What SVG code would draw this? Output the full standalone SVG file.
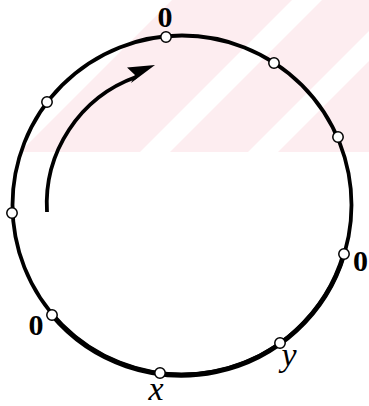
<svg xmlns="http://www.w3.org/2000/svg" width="369" height="406" viewBox="0 0 369 406">
  <style>
    .bg { fill: #fdedf0; }
    .ring { fill: none; stroke: #000; stroke-width: 3.8; }
    .ring-heavy { fill: none; stroke: #000; stroke-width: 4.8; }
    .shaft { fill: none; stroke: #000; stroke-width: 3.8; stroke-linecap: butt; }
    .head { fill: #000; }
    .pt { fill: #fff; stroke: #000; stroke-width: 1.5; }
    .zero { font-family: "Liberation Serif", "Times New Roman", serif; font-weight: bold; font-size: 30px; text-anchor: middle; fill: #000; }
    .var { font-family: "Liberation Serif", "Times New Roman", serif; font-style: italic; font-size: 34px; text-anchor: middle; fill: #000; }
  </style>
  <rect x="0" y="0" width="369" height="406" fill="#fff"/>
  <g id="watermark">
    <polygon class="bg" points="172,0 292,0 140,152 20,152"/>
    <polygon class="bg" points="322,0 369,0 369,31 248,152 170,152"/>
    <polygon class="bg" points="369,61 369,152 278,152"/>
  </g>
  <g id="connectors">
    <circle class="ring" cx="182" cy="205" r="169.5"/>
    <path class="ring-heavy" d="M 52 315 A 169.5 169.5 0 0 0 344 254"/>
    <path class="shaft" d="M 47 212 A 135 135 0 0 1 136 77"/>
    <polygon class="head" points="155,65 127,67.5 135,75 131,83"/>
  </g>
  <g id="n-top"><circle class="pt" cx="166" cy="37" r="5.2"/><text class="zero" x="165" y="27">0</text></g>
  <g id="n-ne"><circle class="pt" cx="274" cy="63" r="5.2"/></g>
  <g id="n-e"><circle class="pt" cx="338" cy="137" r="5.2"/></g>
  <g id="n-se"><circle class="pt" cx="344" cy="254" r="5.2"/><text class="zero" x="360.5" y="271">0</text></g>
  <g id="n-y"><circle class="pt" cx="280" cy="343" r="5.2"/><text class="var" x="289" y="366">y</text></g>
  <g id="n-x"><circle class="pt" cx="160" cy="373" r="5.2"/><text class="var" x="156" y="400">x</text></g>
  <g id="n-sw"><circle class="pt" cx="52" cy="315" r="5.2"/><text class="zero" x="36" y="335">0</text></g>
  <g id="n-w"><circle class="pt" cx="12" cy="213" r="5.2"/></g>
  <g id="n-nw"><circle class="pt" cx="47" cy="102" r="5.2"/></g>
</svg>
